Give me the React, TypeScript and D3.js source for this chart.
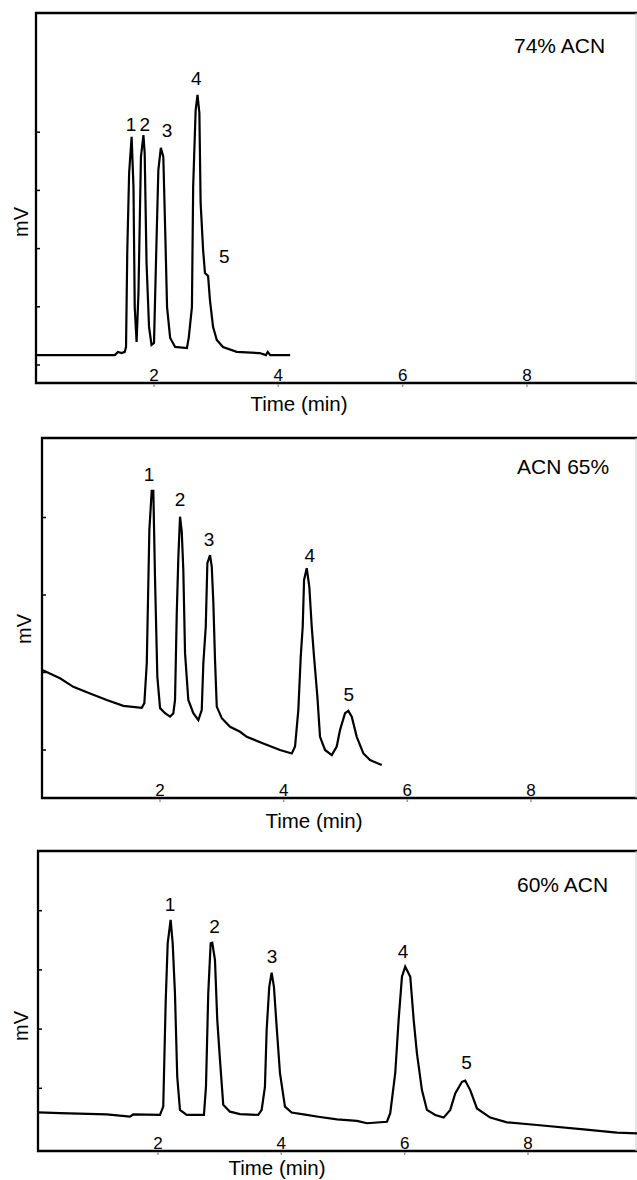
import * as d3 from "d3";
import { useEffect, useRef } from "react";

// x tick labels shared by all three runs
const timeTicks = [2, 4, 6, 8];
const peakNames = ["1", "2", "3", "4", "5"];

// run 1: 74% ACN
const time74 = [0.10, 1.37, 1.42, 1.48, 1.53, 1.55, 1.57, 1.60, 1.64, 1.67, 1.69, 1.72, 1.75, 1.79, 1.83, 1.85, 1.88, 1.92, 1.96, 2.00, 2.03, 2.07, 2.11, 2.15, 2.18, 2.21, 2.26, 2.34, 2.53, 2.56, 2.61, 2.63, 2.67, 2.70, 2.73, 2.75, 2.79, 2.82, 2.87, 2.90, 2.95, 3.01, 3.11, 3.33, 3.70, 3.80, 3.83, 3.87, 4.19];
const mv74 = [3.4, 3.4, 4.5, 4.1, 4.5, 6.2, 38.8, 66.0, 78.4, 61.2, 19.9, 7.9, 24.7, 71.5, 79.0, 72.9, 35.1, 13.1, 6.9, 7.6, 33.7, 67.0, 74.6, 71.5, 46.4, 19.9, 9.3, 6.2, 5.8, 9.6, 19.9, 61.2, 87.6, 92.8, 86.6, 55.7, 39.5, 31.6, 30.6, 22.3, 13.1, 8.6, 6.2, 4.5, 4.1, 3.4, 4.5, 3.4, 3.4];
const labelTime74 = [1.63, 1.85, 2.21, 2.68, 3.13];
const labelMv74 = [80.4, 80.4, 78.4, 96.2, 35.1];
const yTicks74 = [0, 20, 40, 60, 80];

// run 2: ACN 65%
const time65 = [0.104, 0.383, 0.598, 0.869, 1.139, 1.407, 1.705, 1.747, 1.786, 1.828, 1.866, 1.892, 1.920, 1.957, 2.001, 2.082, 2.163, 2.216, 2.243, 2.271, 2.297, 2.324, 2.352, 2.377, 2.405, 2.458, 2.539, 2.620, 2.675, 2.701, 2.740, 2.766, 2.809, 2.837, 2.863, 2.890, 2.918, 2.999, 3.133, 3.295, 3.403, 3.671, 3.941, 4.131, 4.184, 4.237, 4.276, 4.308, 4.330, 4.373, 4.415, 4.454, 4.491, 4.545, 4.588, 4.669, 4.778, 4.858, 4.912, 4.993, 5.046, 5.101, 5.182, 5.289, 5.397, 5.586];
const mv65 = [20.6, 18.5, 16.3, 14.6, 12.9, 11.4, 10.9, 12.1, 22.4, 56.8, 66.9, 66.9, 43.9, 18.9, 10.8, 9.5, 8.6, 9.5, 12.9, 35.3, 49.9, 60.2, 56.3, 46.5, 25.0, 12.9, 9.5, 7.7, 10.3, 22.4, 31.8, 48.2, 50.3, 47.3, 37.9, 23.2, 11.2, 8.2, 6.0, 4.7, 3.4, 1.7, 0.0, -0.9, 0.9, 10.3, 24.1, 31.8, 43.9, 46.9, 42.1, 31.8, 24.1, 13.8, 3.4, 0.0, -1.3, 0.9, 5.2, 9.5, 10.1, 8.6, 3.4, -0.9, -2.6, -3.9];
const labelTime65 = [1.823, 2.324, 2.793, 4.422, 5.053];
const labelMv65 = [69.4, 62.9, 52.6, 48.5, 12.6];
const yTicks65 = [0, 20, 40, 60];

// run 3: 60% ACN
const time60 = [0.058, 0.410, 1.168, 1.545, 1.599, 2.032, 2.085, 2.124, 2.157, 2.205, 2.238, 2.275, 2.312, 2.356, 2.465, 2.745, 2.778, 2.815, 2.854, 2.880, 2.924, 2.961, 3.005, 3.058, 3.167, 3.329, 3.626, 3.681, 3.734, 3.762, 3.804, 3.843, 3.880, 3.924, 3.978, 4.059, 4.167, 4.411, 4.599, 4.902, 5.226, 5.388, 5.713, 5.766, 5.847, 5.902, 5.956, 6.009, 6.091, 6.146, 6.199, 6.280, 6.361, 6.496, 6.632, 6.739, 6.820, 6.929, 6.982, 7.063, 7.172, 7.388, 7.659, 8.145, 8.902, 9.442, 9.767];
const mv60 = [-8.1, -8.4, -8.8, -9.6, -8.8, -9.0, -6.2, 28.7, 49.0, 56.9, 49.0, 32.1, 3.9, -7.3, -9.0, -9.0, 0.5, 32.1, 49.0, 49.2, 43.3, 23.1, 9.6, -5.6, -7.9, -8.7, -9.0, -7.3, 0.5, 19.7, 34.3, 39.1, 34.3, 20.8, 5.1, -6.2, -8.2, -9.0, -9.6, -10.5, -11.0, -11.8, -11.3, -8.4, 5.1, 23.1, 37.7, 41.1, 37.7, 23.1, 11.8, -0.6, -7.3, -9.0, -9.9, -7.3, -1.7, 2.2, 2.6, -0.6, -6.8, -9.9, -11.5, -12.4, -13.9, -15.0, -15.2];
const labelTime60 = [2.194, 2.918, 3.848, 5.972, 7.005];
const labelMv60 = [60.0, 52.4, 42.4, 43.9, 6.4];
const yTicks60 = [0, 20, 40, 60];

const W = 637;
const H = 1180;
const FONT = "'Liberation Sans', Arial, sans-serif";

const panels = [
  {
    times: time74, mv: mv74, lt: labelTime74, lv: labelMv74, yTicks: yTicks74,
    title: "74% ACN",
    left: 36, top: 13, bottom: 383,
    xPx: [154, 527], yPx: [365, 306.8],
    mvPos: [28, 222], timePos: [299, 411], titlePos: [514, 53],
  },
  {
    times: time65, mv: mv65, lt: labelTime65, lv: labelMv65, yTicks: yTicks65,
    title: "ACN 65%",
    left: 42, top: 438, bottom: 798,
    xPx: [160, 531], yPx: [750, 672.5],
    mvPos: [31, 629], timePos: [314, 828], titlePos: [517, 474],
  },
  {
    times: time60, mv: mv60, lt: labelTime60, lv: labelMv60, yTicks: yTicks60,
    title: "60% ACN",
    left: 38, top: 851, bottom: 1151,
    xPx: [158, 528], yPx: [1088.3, 1029.1],
    mvPos: [28, 1026], timePos: [277, 1175], titlePos: [517, 892],
  },
];

export default function App() {
  const ref = useRef<SVGSVGElement | null>(null);

  useEffect(() => {
    const svg = d3.select(ref.current);
    svg.selectAll("*").remove();

    panels.forEach((p) => {
      const g = svg.append("g");
      const x = d3.scaleLinear().domain([2, 8]).range(p.xPx);
      const y = d3.scaleLinear().domain([0, 20]).range(p.yPx);

      // frame (open on the right, cut by the page edge)
      g.append("path")
        .attr("d", `M${W},${p.top}H${p.left}V${p.bottom}H${W}`)
        .attr("fill", "none")
        .attr("stroke", "#000")
        .attr("stroke-width", 2.3);
      g.append("line")
        .attr("x1", W - 1).attr("x2", W - 1)
        .attr("y1", p.top).attr("y2", p.bottom)
        .attr("stroke", "#ccc").attr("stroke-width", 1);

      // y ticks, pointing inward
      g.selectAll(".yt")
        .data(p.yTicks)
        .enter()
        .append("line")
        .attr("x1", p.left)
        .attr("x2", p.left + 4)
        .attr("y1", (d) => y(d))
        .attr("y2", (d) => y(d))
        .attr("stroke", "#000")
        .attr("stroke-width", 1.5);

      // x tick labels sit inside the frame
      g.selectAll(".xt")
        .data(timeTicks)
        .enter()
        .append("text")
        .attr("x", (d) => x(d))
        .attr("y", p.bottom - 2.5)
        .attr("text-anchor", "middle")
        .attr("font-family", FONT)
        .attr("font-size", 17)
        .text((d) => d);
      g.selectAll(".xm")
        .data(timeTicks)
        .enter()
        .append("line")
        .attr("x1", (d) => x(d))
        .attr("x2", (d) => x(d))
        .attr("y1", p.bottom + 1)
        .attr("y2", p.bottom + 4)
        .attr("stroke", "#999")
        .attr("stroke-width", 1.5);

      const pts = d3.zip(p.times, p.mv) as [number, number][];
      const line = d3
        .line<[number, number]>()
        .x((d) => x(d[0]))
        .y((d) => y(d[1]));
      g.append("path")
        .attr("d", line(pts))
        .attr("fill", "none")
        .attr("stroke", "#000")
        .attr("stroke-width", 2.2);

      // peak numbers
      g.selectAll(".pk")
        .data(peakNames)
        .enter()
        .append("text")
        .attr("x", (d, i) => x(p.lt[i]))
        .attr("y", (d, i) => y(p.lv[i]))
        .attr("text-anchor", "middle")
        .attr("font-family", FONT)
        .attr("font-size", 19)
        .text((d) => d);

      g.append("text")
        .attr("x", p.titlePos[0])
        .attr("y", p.titlePos[1])
        .attr("font-family", FONT)
        .attr("font-size", 21)
        .text(p.title);

      g.append("text")
        .attr("transform", `translate(${p.mvPos[0]},${p.mvPos[1]}) rotate(-90)`)
        .attr("text-anchor", "middle")
        .attr("font-family", FONT)
        .attr("font-size", 20)
        .text("mV");

      g.append("text")
        .attr("x", p.timePos[0])
        .attr("y", p.timePos[1])
        .attr("text-anchor", "middle")
        .attr("font-family", FONT)
        .attr("font-size", 20.5)
        .text("Time (min)");
    });
  }, []);

  return (
    <svg
      ref={ref}
      width={W}
      height={H}
      style={{ position: "absolute", left: 0, top: 0, background: "#fff" }}
    />
  );
}
